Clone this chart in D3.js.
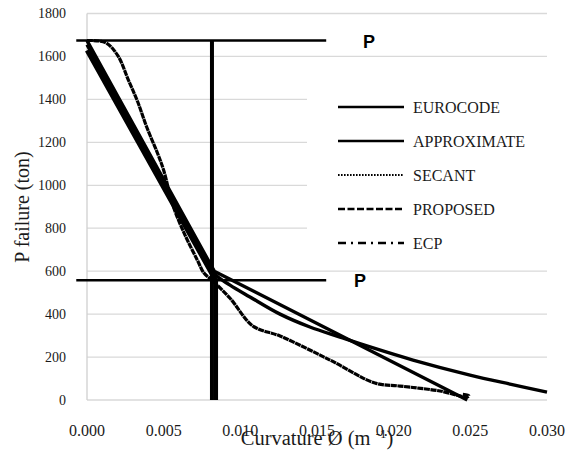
<!DOCTYPE html>
<html><head><meta charset="utf-8">
<script src="https://cdn.jsdelivr.net/npm/d3@7"></script>
<style>body{margin:0;background:#fff}</style>
</head><body><svg id="c" width="573" height="450"></svg>
<script>
// ---- data ----
const seriesNames = ["EUROCODE", "APPROXIMATE", "SECANT", "PROPOSED", "ECP"];
const eurocodeX = [0, 0.0083, 0.0248];
const eurocodeY = [1674, 600, 0];
const approximateX = [0, 0.004, 0.0075, 0.0083, 0.00933, 0.01063, 0.01259, 0.01454, 0.0165, 0.01846, 0.02126, 0.02498, 0.02759, 0.0300];
const approximateY = [1655, 1140, 690, 588, 535, 480, 400, 340, 293, 247, 186, 116, 74, 37];
const secantX = [0, 0.0012, 0.002, 0.0027, 0.0033, 0.0039, 0.0046, 0.005, 0.0056, 0.0064, 0.0072, 0.00763, 0.00815, 0.00933, 0.01083, 0.01259, 0.01585, 0.01878, 0.02041, 0.02302, 0.02478, 0.0249, 0.0245];
const secantY = [1674, 1665, 1605, 1490, 1390, 1270, 1149, 1070, 907, 767, 651, 591, 558, 474, 344, 298, 186, 79, 65, 42, 14, 20, 26];
const proposedX = [0, 0.0081, 0.0084, 0.0084];
const proposedY = [1628, 592, 560, 0];
const ecpX = [0.00815, 0.00815];
const ecpY = [1674, 0];
const pValues = [1674, 558];
const pLineFrom = -0.0007, pLineTo = 0.0156;
const xTicks = [0, 0.005, 0.010, 0.015, 0.020, 0.025, 0.030];
const yTicks = [0, 200, 400, 600, 800, 1000, 1200, 1400, 1600, 1800];

// ---- setup ----
const svg = d3.select("#c");
const x = d3.scaleLinear().domain([0, 0.030]).range([87, 547]);
const y = d3.scaleLinear().domain([0, 1800]).range([400, 13.5]);
const serif = "'Liberation Serif','Times New Roman',serif";

// gridlines
svg.append("g").selectAll("line").data(yTicks).join("line")
  .attr("x1", x(0)).attr("x2", x(0.030))
  .attr("y1", d => y(d)).attr("y2", d => y(d))
  .attr("stroke", "#d9d9d9").attr("stroke-width", 1.3);
svg.append("line").attr("x1", x(0)).attr("x2", x(0)).attr("y1", y(0)).attr("y2", y(1800))
  .attr("stroke", "#d0d0d0").attr("stroke-width", 1.3);

// y ticks
svg.append("g").selectAll("text").data(yTicks).join("text")
  .attr("x", 66).attr("y", d => y(d)).attr("dy", "0.35em")
  .attr("text-anchor", "end").attr("font-family", serif).attr("font-size", 14)
  .attr("fill", "#1a1a1a").text(d => d);
// x ticks
svg.append("g").selectAll("text").data(xTicks).join("text")
  .attr("x", d => x(d)).attr("y", 436)
  .attr("text-anchor", "middle").attr("font-family", serif).attr("font-size", 16)
  .attr("fill", "#1a1a1a").text(d => d3.format(".3f")(d));

// legend background (covers gridlines)
svg.append("rect").attr("x", 307).attr("y", 80).attr("width", 243).attr("height", 182).attr("fill", "#fff");

// series
const mk = (xs, ys) => xs.map((v, i) => [v, ys[i]]);
const series = [
  {name: "EUROCODE", pts: mk(eurocodeX, eurocodeY), curve: d3.curveLinear, dash: null, lw: 3.4, dash2: null},
  {name: "APPROXIMATE", pts: mk(approximateX, approximateY), curve: d3.curveCatmullRom.alpha(0.5), dash: null, lw: 3.4, dash2: null},
  {name: "SECANT", pts: mk(secantX, secantY), curve: d3.curveCatmullRom.alpha(0.5), dash: "6,0.6", lw: 3.2, dash2: "1.6,1.4"},
  {name: "PROPOSED", pts: mk(proposedX, proposedY), curve: d3.curveLinear, dash: null, lw: 4.5, dash2: "7,2.5"},
  {name: "ECP", pts: mk(ecpX, ecpY), curve: d3.curveLinear, dash: null, lw: 4, dash2: "8,5,2,5"}
];
const line = d3.line().x(d => x(d[0])).y(d => y(d[1]));
svg.append("g").selectAll("path").data(series).join("path")
  .attr("d", s => line.curve(s.curve)(s.pts))
  .attr("fill", "none").attr("stroke", "#000").attr("stroke-width", s => s.lw)
  .attr("stroke-linejoin", "round")
  .attr("stroke-dasharray", s => s.dash);

// P lines
svg.append("g").selectAll("line").data(pValues).join("line")
  .attr("x1", x(pLineFrom)).attr("x2", x(pLineTo))
  .attr("y1", d => y(d)).attr("y2", d => y(d))
  .attr("stroke", "#000").attr("stroke-width", 2.5);
svg.append("g").selectAll("text").data(pValues).join("text")
  .attr("x", (d, i) => i === 0 ? 369 : 360).attr("y", d => y(d) + 7)
  .attr("text-anchor", "middle").attr("font-family", "'Liberation Sans',Arial,sans-serif")
  .attr("font-weight", "bold").attr("font-size", 18).text("P");

// legend
const lg = svg.append("g").selectAll("g").data(series).join("g")
  .attr("transform", (d, i) => `translate(0,${107 + i * 34})`);
lg.append("line").attr("x1", 338).attr("x2", 404).attr("y1", 0).attr("y2", 0)
  .attr("stroke", "#000").attr("stroke-width", d => d.name === "SECANT" ? 1.8 : 2.4)
  .attr("stroke-dasharray", d => d.dash2);
lg.append("text").attr("x", 413).attr("y", 0).attr("dy", "0.35em")
  .attr("font-family", serif).attr("font-size", 16).attr("fill", "#1a1a1a").text(d => d.name);

// axis titles
const xt = svg.append("text").attr("x", 317).attr("y", 445).attr("text-anchor", "middle")
  .attr("font-family", serif).attr("font-size", 20.5).attr("fill", "#1a1a1a");
xt.append("tspan").text("Curvature Ø (m ");
xt.append("tspan").attr("font-size", 13).attr("dy", -7).text("-1");
xt.append("tspan").attr("dy", 7).text(")");
svg.append("text").attr("transform", "translate(29,207) rotate(-90)").attr("text-anchor", "middle")
  .attr("font-family", serif).attr("font-size", 20).attr("fill", "#1a1a1a").text("P failure (ton)");
</script></body></html>
